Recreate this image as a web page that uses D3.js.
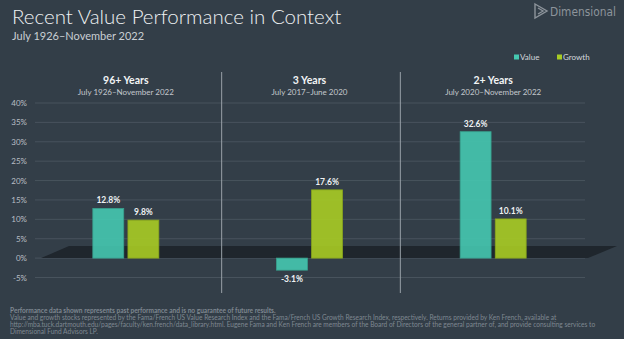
<!DOCTYPE html>
<html>
<head>
<meta charset="utf-8">
<script src="https://cdn.jsdelivr.net/npm/d3@7"></script>
<style>
  html, body { margin: 0; padding: 0; background: #333e48; }
  svg { display: block; font-family: Lato, "Open Sans", sans-serif; }
</style>
</head>
<body>
<svg id="chart" width="624" height="339"></svg>
<script>
(function(){

	// periods shown along the x axis
	const periods = ["96+ Years", "3 Years", "2+ Years"];
	const periodRanges = ["July 1926\u2013November 2022", "July 2017\u2013June 2020", "July 2020\u2013November 2022"];
	const seriesNames = ["Value", "Growth"];
	// annualised returns, percent
	const valueReturns = [12.8, -3.1, 32.6];
	const growthReturns = [9.8, 17.6, 10.1];
	const yTicks = [-5, 0, 5, 10, 15, 20, 25, 30, 35, 40];

	const footnotes = [
		"Performance data shown represents past performance and is no guarantee of future results.",
		"Value and growth stocks represented by the Fama/French US Value Research Index and the Fama/French US Growth Research Index, respectively. Returns provided by Ken French, available at",
		"http://mba.tuck.dartmouth.edu/pages/faculty/ken.french/data_library.html. Eugene Fama and Ken French are members of the Board of Directors of the general partner of, and provide consulting services to",
		"Dimensional Fund Advisors LP."
	];

	const bg = "#333e48";
	const colors = { Value: "#45c8b0", Growth: "#a8cc24" };

	const svg = d3.select("#chart");
	svg.append("rect").attr("width", 624).attr("height", 339).attr("fill", bg);

	// title block
	svg.append("text").attr("x", 12).attr("y", 24)
		.attr("fill", "#eef1f3").attr("font-size", 20.5).attr("font-weight", 300)
		.text("Recent Value Performance in Context");
	svg.append("text").attr("x", 12).attr("y", 40)
		.attr("fill", "#c9ced3").attr("font-size", 11)
		.text("July 1926\u2013November 2022");

	// logo, drawn roughly
	const logo = svg.append("g").attr("fill", "none").attr("stroke", "#8d949b").attr("stroke-width", 1.4);
	logo.append("path").attr("d", "M535,4 L547,11 L535,18 Z");
	logo.append("path").attr("d", "M538,8 L543,11 L538,14");
	svg.append("text").attr("x", 550).attr("y", 15.5)
		.attr("fill", "#8d949b").attr("font-size", 11.8)
		.attr("font-family", "'DejaVu Sans Condensed', 'DejaVu Sans', sans-serif")
		.attr("font-stretch", "condensed")
		.text("Dimensional");

	// scales
	const x0 = d3.scaleBand().domain(periods).range([34, 585]);
	const x1 = d3.scaleBand().domain(seriesNames).range([x0.bandwidth() / 2 - 33, x0.bandwidth() / 2 + 33]).paddingInner(0.12);
	const y = d3.scaleLinear().domain([-5, 40]).range([277.5, 103]);

	// gridlines + axis labels
	const grid = svg.append("g");
	grid.selectAll("line").data(yTicks).enter().append("line")
		.attr("x1", 35).attr("x2", 585)
		.attr("y1", d => y(d)).attr("y2", d => y(d))
		.attr("stroke", "#48535d").attr("stroke-width", 1);
	grid.selectAll("text").data(yTicks).enter().append("text")
		.attr("x", 27).attr("y", d => y(d) + 3)
		.attr("text-anchor", "end").attr("font-size", 8).attr("fill", "#b9bfc5")
		.text(d => d + "%");

	// dark "floor" behind the zero line
	const y0 = y(0);
	svg.append("path")
		.attr("d", `M41,${y0} L69,${y0 - 12} L617,${y0 - 12} L588,${y0} Z`)
		.attr("fill", "#1f262d");

	// period dividers
	const dividers = [x0("3 Years") + 4, x0("2+ Years") - 1];
	svg.selectAll("line.divider").data(dividers).enter().append("line")
		.attr("class", "divider")
		.attr("x1", d => d).attr("x2", d => d)
		.attr("y1", 72).attr("y2", 293)
		.attr("stroke", "#98a0a8").attr("stroke-width", 1);

	// period headers
	const headers = svg.selectAll("g.header").data(periods).enter().append("g")
		.attr("class", "header")
		.attr("transform", d => `translate(${x0(d) + x0.bandwidth() / 2},0)`);
	headers.append("text").attr("y", 84).attr("text-anchor", "middle")
		.attr("font-size", 10.5).attr("font-weight", 700).attr("fill", "#f2f4f5")
		.text(d => d);
	headers.append("text").attr("y", 95).attr("text-anchor", "middle")
		.attr("font-size", 8).attr("fill", "#c3c8cd")
		.text((d, i) => periodRanges[i]);

	// bars
	const barData = [];
	periods.forEach((p, i) => {
		barData.push({ period: p, series: "Value", v: valueReturns[i] });
		barData.push({ period: p, series: "Growth", v: growthReturns[i] });
	});

	const bars = svg.append("g");
	bars.selectAll("rect").data(barData).enter().append("rect")
		.attr("x", d => x0(d.period) + x1(d.series))
		.attr("width", x1.bandwidth())
		.attr("y", d => y(Math.max(0, d.v)))
		.attr("height", d => Math.abs(y(d.v) - y(0)))
		.attr("fill", d => colors[d.series])
		.attr("fill-opacity", 0.9)
		.attr("stroke", d => d3.color(colors[d.series]).darker(0.6))
		.attr("stroke-width", 0.8);

	bars.selectAll("text").data(barData).enter().append("text")
		.attr("x", d => x0(d.period) + x1(d.series) + x1.bandwidth() / 2)
		.attr("y", d => d.v >= 0 ? y(d.v) - 5 : y(d.v) + 12)
		.attr("text-anchor", "middle").attr("font-size", 8.5).attr("font-weight", 700)
		.attr("fill", "#eef1f3")
		.text(d => d.v.toFixed(1) + "%");

	// legend
	const legend = svg.selectAll("g.legend").data(seriesNames).enter().append("g")
		.attr("class", "legend")
		.attr("transform", (d, i) => `translate(${514 + i * 43},57)`);
	legend.append("rect").attr("x", 0).attr("y", -2.5).attr("width", 5).attr("height", 5)
		.attr("fill", d => colors[d]);
	legend.append("text").attr("x", 6).attr("y", 3)
		.attr("font-size", 8).attr("fill", "#d5d9dd")
		.text(d => d);

	// footnotes
	svg.selectAll("text.foot").data(footnotes).enter().append("text")
		.attr("class", "foot")
		.attr("x", 10).attr("y", (d, i) => 313 + i * 7)
		.attr("font-size", 6.55)
		.attr("font-weight", (d, i) => i == 0 ? 700 : 400)
		.attr("fill", "#7f8891")
		.text(d => d);

}());
</script>
</body>
</html>
